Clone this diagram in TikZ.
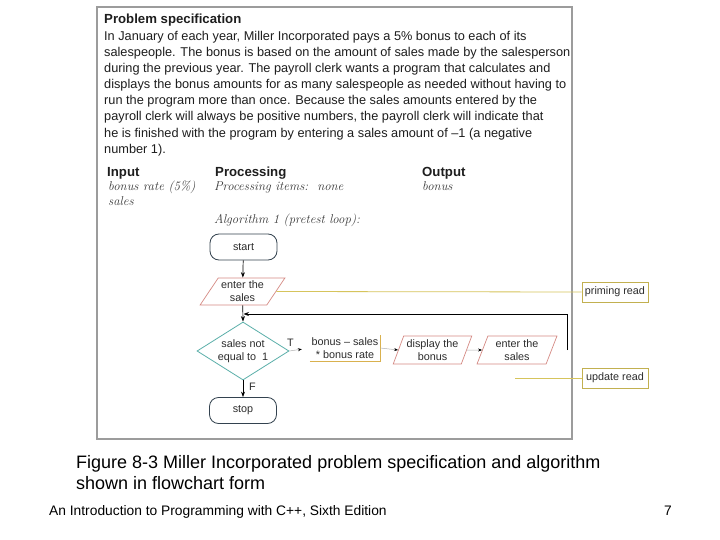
\documentclass[tikz,border=0pt]{standalone}
\usepackage{fontspec}
\newfontfamily\ar{Liberation Sans}
\usetikzlibrary{shapes.geometric,arrows.meta}
\definecolor{framegray}{HTML}{9C9C9C}
\definecolor{txt}{HTML}{1E1E1E}
\definecolor{handc}{HTML}{3A3A3A}
\definecolor{parac}{HTML}{D58A84}
\definecolor{dteal}{HTML}{5AAFA9}
\definecolor{goldc}{HTML}{D9B14E}
\definecolor{olivec}{HTML}{C2B050}
\definecolor{callline}{HTML}{D6C45C}
\definecolor{termc}{HTML}{33424F}
\definecolor{flowc}{HTML}{2C2C2C}
\begin{document}
\begin{tikzpicture}[x=1pt,y=-1pt,
  body/.style={anchor=base west, inner sep=0pt, font=\ar\fontsize{12.75}{15}\selectfont, text=txt},
  head/.style={anchor=base west, inner sep=0pt, font=\ar\bfseries\fontsize{13.2}{15}\selectfont, text=txt},
  handtxt/.style={anchor=base west, inner sep=0pt, font=\itshape\fontsize{12.8}{14}\selectfont, text=handc},
  flowtxt/.style={font=\ar\fontsize{10.8}{13}\selectfont, text=flowc},
  terminal/.style={draw=termc, rounded corners=9pt, minimum width=67pt, minimum height=26pt, line width=0.8pt, flowtxt},
  io/.style={trapezium, trapezium stretches=true, draw=parac, line width=0.7pt, align=center, inner sep=1pt, flowtxt},
  decision/.style={diamond, draw=dteal, line width=0.8pt, minimum width=92pt, minimum height=58pt, shape aspect=1.6, inner sep=0pt, align=center, flowtxt},
  callout/.style={draw=olivec, line width=0.8pt, minimum width=66pt, minimum height=20pt, inner sep=1pt, flowtxt},
  flow/.style={-{Stealth[length=5.5pt,width=4pt]}, line width=0.7pt, black},
  thin flow/.style={-{Stealth[length=4pt,width=3pt,color=black]}, line width=0.5pt, gray!60},
  capt/.style={anchor=base west, inner sep=0pt, font=\ar\fontsize{18}{21}\selectfont, text=black},
  foot/.style={anchor=base west, inner sep=0pt, font=\ar\fontsize{13.8}{16}\selectfont, text=black}
]
\useasboundingbox (0,0) rectangle (720,540);
\fill[white] (0,0) rectangle (720,540);

% frame
\draw[framegray, line width=1.2pt] (97,7) rectangle (572,439);

% problem specification text
\node[head] (title) at (104,23.5) {Problem specification};
\node[body] (l1) at (104,40.5) {In January of each year, Miller Incorporated pays a 5\% bonus to each of its};
\node[body] (l2) at (104,56.6) {salespeople. The bonus is based on the amount of sales made by the salesperson};
\node[body] (l3) at (104,72.7) {during the previous year. The payroll clerk wants a program that calculates and};
\node[body] (l4) at (104,88.8) {displays the bonus amounts for as many salespeople as needed without having to};
\node[body] (l5) at (104,104.9) {run the program more than once. Because the sales amounts entered by the};
\node[body] (l6) at (104,121) {payroll clerk will always be positive numbers, the payroll clerk will indicate that};
\node[body] (l7) at (104,137.1) {he is finished with the program by entering a sales amount of –1 (a negative};
\node[body] (l8) at (104,153.2) {number 1).};

% IPO headings
\node[head] (hin) at (107,176.5) {Input};
\node[head] (hproc) at (215,176.5) {Processing};
\node[head] (hout) at (422,176.5) {Output};
\node[handtxt] (i1) at (108,191) {bonus rate (5\%)};
\node[handtxt] (i2) at (108,206) {sales};
\node[handtxt] (p1) at (214,191) {Processing items:\ \ none};
\node[handtxt] (o1) at (422,191) {bonus};
\node[handtxt] (alg) at (214,224) {Algorithm 1 (pretest loop):};

% flowchart
\node[terminal] (start) at (243.5,247) {start};
\node[io, minimum width=85pt, minimum height=27pt, trapezium left angle=54, trapezium right angle=126] (enter1) at (242.5,291.5) {enter the\\sales};
\node[decision] (dec) at (243,351) {sales not\\equal to\ \ 1};
\node[flowtxt, minimum width=70pt, minimum height=26pt, inner sep=0pt, align=center] (bonus) at (345,348) {bonus – sales\\* bonus rate};
\node[io, minimum width=79pt, minimum height=28pt, trapezium left angle=67, trapezium right angle=113] (disp) at (432.5,350) {display the\\bonus};
\node[io, minimum width=80pt, minimum height=28pt, trapezium left angle=70, trapezium right angle=110] (enter2) at (517,350) {enter the\\sales};
\node[terminal] (stop) at (243,410.5) {stop};

\node[flowtxt, inner sep=0pt] (tlab) at (290.5,342.5) {T};
\node[flowtxt, inner sep=0pt] (flab) at (252.5,387) {F};

\draw[goldc, line width=0.9pt] (bonus.south west) -- (bonus.south east) -- (bonus.north east);

\node[callout] (prime) at (615,292) {priming read};
\node[callout] (upd) at (615,378) {update read};

% connectors
\draw[flow] (start) -- (enter1);
\draw[flow] (enter1) -- (dec.north);
\coordinate (loopstart) at (567,350);
\coordinate (loopcorner) at (567,314);
\coordinate (merge) at (243.5,314);
\draw[flow] (loopstart) -- (loopcorner) -- (merge);
\draw[thin flow, shorten >=8pt] (dec.east) -- (bonus.west);
\draw[thin flow] (bonus.east) -- (disp.west);
\draw[thin flow] (disp.east) -- (enter2.west);
\draw[flow] (dec.south) -- (stop.north);

\draw[callline, line width=0.8pt] (enter1.east) -- (prime.west);
\coordinate (updstart) at (515,378);
\draw[callline, line width=0.8pt] (updstart) -- (upd.west);

% caption and footer
\node[capt] (cap1) at (76,468.5) {Figure 8-3 Miller Incorporated problem specification and algorithm};
\node[capt] (cap2) at (76,489.5) {shown in flowchart form};
\node[foot] (foot) at (49,515) {An Introduction to Programming with C++, Sixth Edition};
\node[foot] (page) at (664,515) {7};
\end{tikzpicture}
\end{document}
